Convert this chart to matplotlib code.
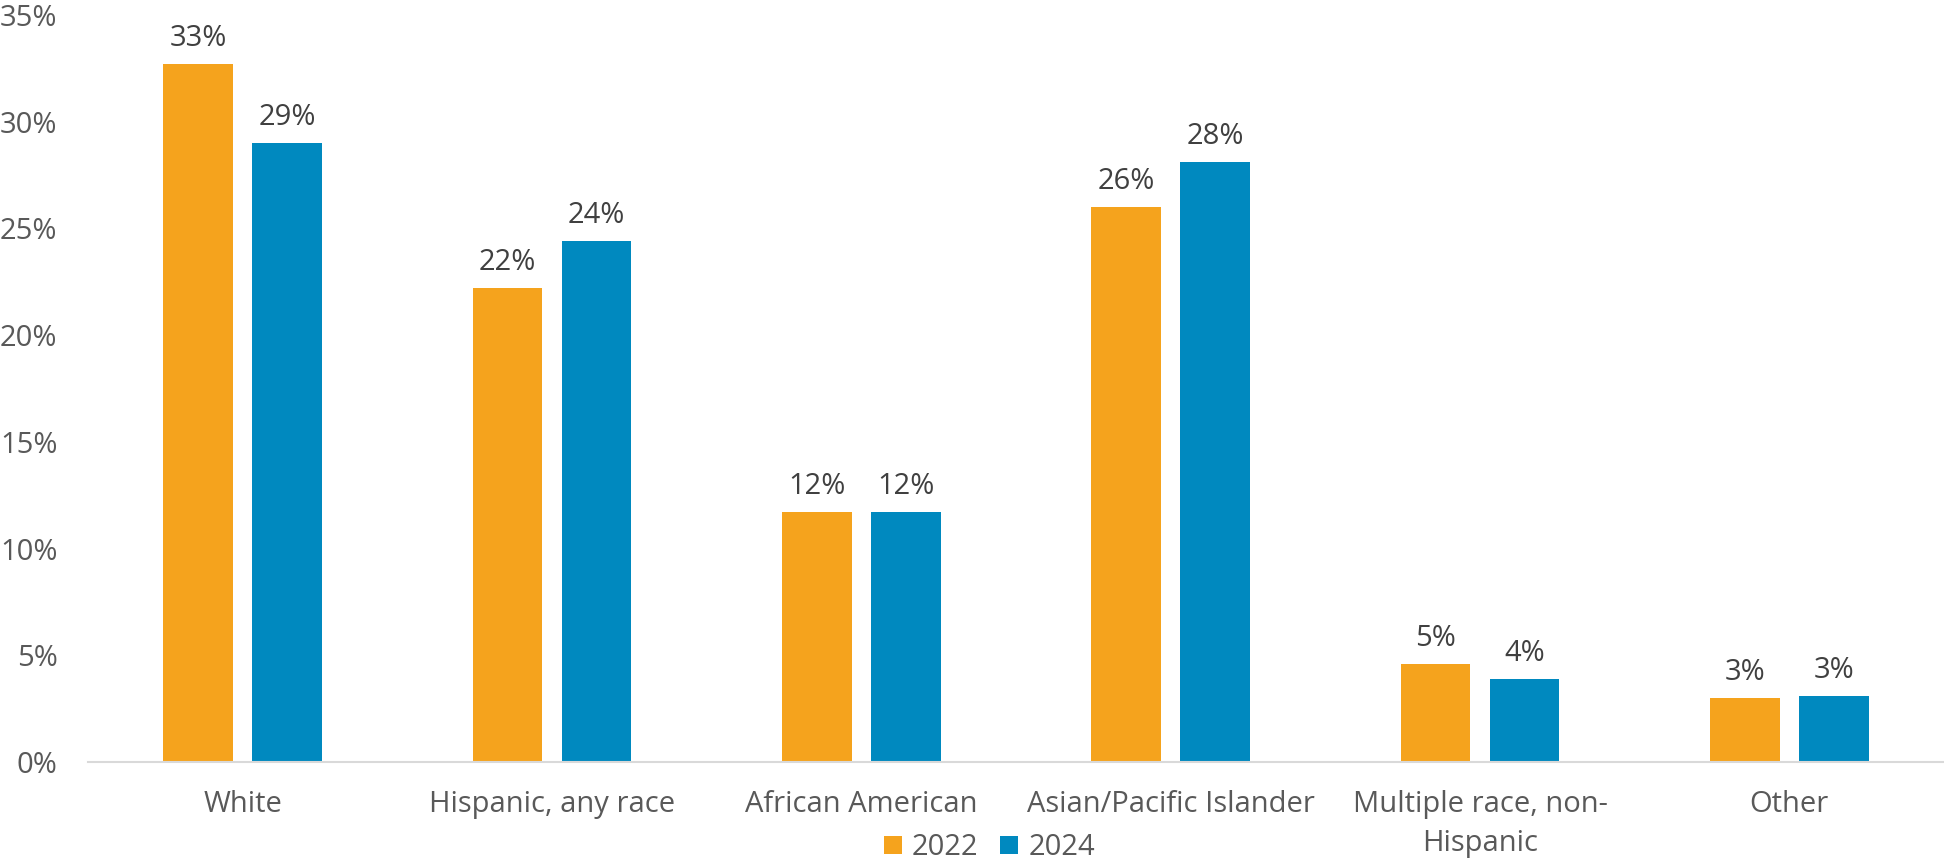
import matplotlib
matplotlib.use('Agg')
import matplotlib.pyplot as plt
import numpy as np

plt.rcParams['font.family'] = ['Open Sans', 'DejaVu Sans']

# data
categories = ["White", "Hispanic, any race", "African American",
              "Asian/Pacific Islander", "Multiple race, non-\nHispanic", "Other"]
vals_2022 = [32.7, 22.2, 11.7, 26.0, 4.6, 3.0]
vals_2024 = [29.0, 24.4, 11.7, 28.1, 3.9, 3.1]
labels_2022 = ["33%", "22%", "12%", "26%", "5%", "3%"]
labels_2024 = ["29%", "24%", "12%", "28%", "4%", "3%"]
yticks = [0, 5, 10, 15, 20, 25, 30, 35]

ORANGE = "#F5A31D"
BLUE = "#0089BF"
TXT = "#595959"
FS = 21

fig = plt.figure(figsize=(19.44, 8.65), dpi=100)
ax = fig.add_axes([88 / 1944, 103 / 865, (1944 - 88) / 1944, (762 - 15) / 865])

x = np.arange(len(categories))
w = 0.226
off = 0.144
b1 = ax.bar(x - off, vals_2022, w, color=ORANGE, label="2022")
b2 = ax.bar(x + off, vals_2024, w, color=BLUE, label="2024")

for bars, labs in ((b1, labels_2022), (b2, labels_2024)):
    for r, lab in zip(bars, labs):
        ax.annotate(lab, (r.get_x() + r.get_width() / 2, r.get_height()),
                    xytext=(0, 8), textcoords="offset points",
                    ha="center", va="bottom", fontsize=FS, color="#404040")

ax.set_xlim(-0.5, len(categories) - 0.5)
ax.set_ylim(0, 35)
ax.set_yticks(yticks)
ax.set_yticklabels([f"{t}%" for t in yticks])
ax.set_xticks(x)
ax.set_xticklabels(categories, linespacing=1.45)
ax.tick_params(axis="y", length=0, pad=22, labelsize=FS, labelcolor=TXT)
ax.tick_params(axis="x", length=0, pad=20, labelsize=FS, labelcolor=TXT)

for s in ("top", "right", "left"):
    ax.spines[s].set_visible(False)
ax.spines["bottom"].set_color("#D9D9D9")
ax.spines["bottom"].set_linewidth(1.5)

fig.legend(handles=[b1, b2], loc="lower center", bbox_to_anchor=(0.509, -0.027),
           ncol=2, frameon=False, fontsize=FS, labelcolor=TXT,
           handlelength=0.6, handleheight=0.6, handletextpad=0.35, columnspacing=0.75)

plt.savefig("out.png", dpi=100, facecolor="white")
